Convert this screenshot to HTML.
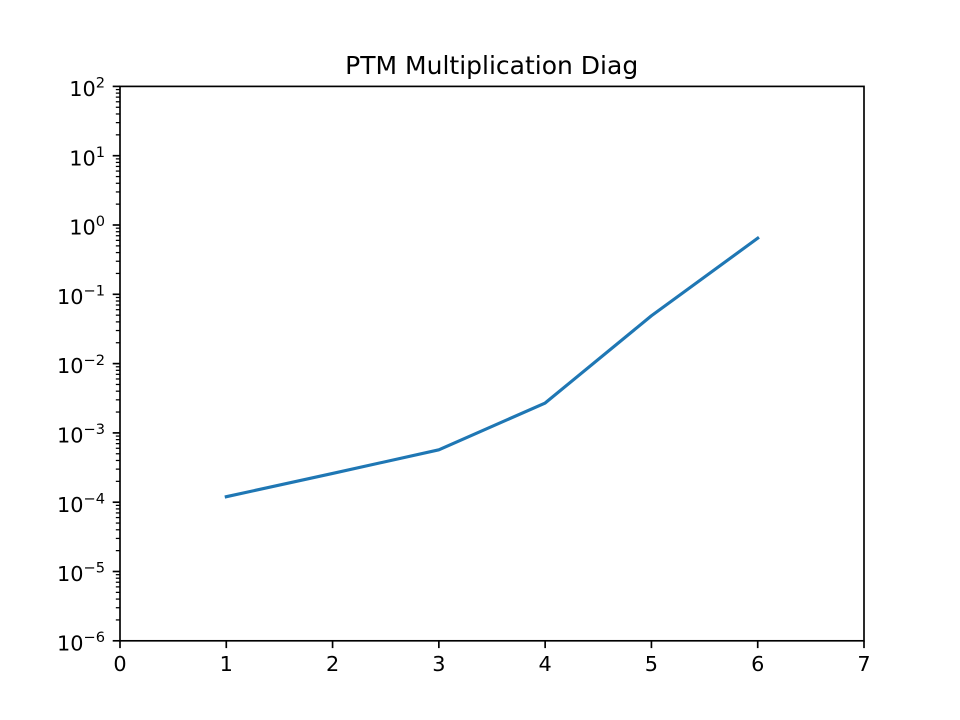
<!DOCTYPE html>
<html lang="en">
<head>
<meta charset="utf-8">
<title>PTM Multiplication Diag</title>
<style>
html,body{margin:0;padding:0;background:#fff;}
svg{display:block;font-family:"DejaVu Sans","Liberation Sans",sans-serif;}
</style>
</head>
<body>
<svg id="chart" xmlns="http://www.w3.org/2000/svg" width="960" height="720" viewBox="0 0 960 720">
<rect x="0" y="0" width="960" height="720" fill="#ffffff"/>
<g id="series"></g>
<g id="ticks"></g>
<rect x="120" y="86.4" width="744" height="554.4" fill="none" stroke="#000" stroke-width="1.67"/>
<text x="491.7" y="74" text-anchor="middle" font-size="25" fill="#000">PTM Multiplication Diag</text>
</svg>
<script>
const categories = [1, 2, 3, 4, 5, 6];
const seriesValues = [0.00012, 0.00026, 0.00057, 0.0027, 0.049, 0.645];
const xTickLabels = [0, 1, 2, 3, 4, 5, 6, 7];
const yTickExponents = [2, 1, 0, -1, -2, -3, -4, -5, -6];
const minorMultipliers = [2, 3, 4, 5, 6, 7, 8, 9];

const SVGNS = 'http://www.w3.org/2000/svg';
const plot = {left: 120, right: 864, top: 86.4, bottom: 640.8};
const xDomain = [0, 7];
const yDomain = [-6, 2];

function xScale(v) {
  return plot.left + (v - xDomain[0]) / (xDomain[1] - xDomain[0]) * (plot.right - plot.left);
}
function yScale(v) {
  return plot.bottom - (Math.log10(v) - yDomain[0]) / (yDomain[1] - yDomain[0]) * (plot.bottom - plot.top);
}
function tickLine(x1, y1, x2, y2, width) {
  const l = document.createElementNS(SVGNS, 'line');
  l.setAttribute('x1', x1);
  l.setAttribute('y1', y1);
  l.setAttribute('x2', x2);
  l.setAttribute('y2', y2);
  l.setAttribute('stroke', '#000');
  l.setAttribute('stroke-width', width);
  return l;
}

const tickLayer = document.getElementById('ticks');
const seriesLayer = document.getElementById('series');

xTickLabels.forEach(function (v) {
  const x = xScale(v);
  const t = tickLine(x, plot.bottom, x, plot.bottom + 7.3, 1.67);
  
  
  tickLayer.appendChild(t);
  const label = document.createElementNS(SVGNS, 'text');
  
  
  label.setAttribute('x', x);
  label.setAttribute('y', 671);
  label.setAttribute('text-anchor', 'middle');
  label.setAttribute('font-size', '20.83');
  label.setAttribute('fill', '#000');
  label.textContent = String(v);
  tickLayer.appendChild(label);
});

yTickExponents.forEach(function (e) {
  const y = yScale(Math.pow(10, e));
  const t = tickLine(plot.left - 7.3, y, plot.left, y, 1.67);
  
  
  tickLayer.appendChild(t);
  const label = document.createElementNS(SVGNS, 'text');
  
  
  label.setAttribute('x', 105);
  label.setAttribute('y', y + 9.6);
  label.setAttribute('text-anchor', 'end');
  label.setAttribute('font-size', '20.83');
  label.setAttribute('fill', '#000');
  const base = document.createElementNS(SVGNS, 'tspan');
  base.textContent = '10';
  const sup = document.createElementNS(SVGNS, 'tspan');
  sup.setAttribute('dy', '-8.4');
  sup.setAttribute('font-size', '14.58');
  sup.textContent = e < 0 ? '\u2212' + Math.abs(e) : String(e);
  label.appendChild(base);
  label.appendChild(sup);
  tickLayer.appendChild(label);
  if (e > yDomain[0]) {
    minorMultipliers.forEach(function (m) {
      const my = yScale(m * Math.pow(10, e - 1));
      const mt = tickLine(plot.left - 4.17, my, plot.left, my, 1.25);
      
      
      tickLayer.appendChild(mt);
    });
  }
});

const path = document.createElementNS(SVGNS, 'polyline');


path.setAttribute('points', categories.map(function (c, i) {
  return xScale(c).toFixed(2) + ',' + yScale(seriesValues[i]).toFixed(2);
}).join(' '));
path.setAttribute('fill', 'none');
path.setAttribute('stroke', '#1f77b4');
path.setAttribute('stroke-width', '3.125');
path.setAttribute('stroke-linejoin', 'round');
path.setAttribute('stroke-linecap', 'square');
seriesLayer.appendChild(path);
</script>
</body>
</html>
